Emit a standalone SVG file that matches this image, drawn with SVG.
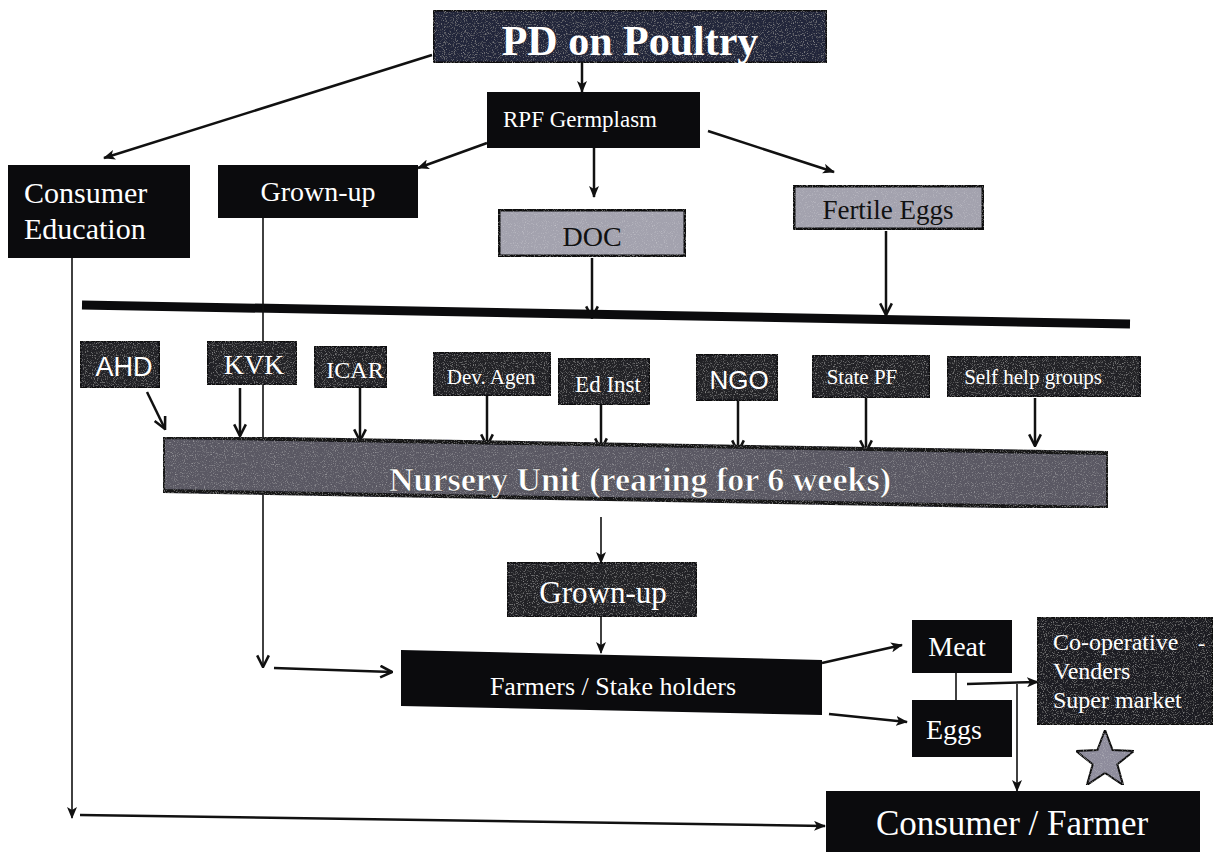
<svg xmlns="http://www.w3.org/2000/svg" width="1215" height="854" viewBox="0 0 1215 854">
<style>
.blk{fill:#0b0b0d;}
.tex{fill:#222228;stroke:#0b0b0d;stroke-width:3;}
.gry{fill:#a3a2ae;stroke:#0b0b0d;stroke-width:5;}
.ln{fill:none;stroke:#111;stroke-width:2.5;}
.lnt{fill:none;stroke:#111;stroke-width:1.6;}
text{font-family:'Liberation Serif','Times New Roman',Times,'Nimbus Roman','DejaVu Serif',serif;}
.tw{fill:#fff;}
.td{fill:#111;}
.ts{fill:#fff;font-family:'Liberation Sans',Arial,Helvetica,sans-serif;}
</style>
<defs>
<marker id="ah" viewBox="0 0 12 10" refX="11" refY="5" markerWidth="12" markerHeight="10" markerUnits="userSpaceOnUse" orient="auto">
<path d="M0,0 L12,5 L0,10 L3,5 Z" fill="#111"/>
</marker>
<marker id="av" viewBox="0 0 12 12" refX="11" refY="6" markerWidth="14" markerHeight="14" markerUnits="userSpaceOnUse" orient="auto">
<path d="M1,1 L11,6 L1,11" fill="none" stroke="#111" stroke-width="2.2"/>
</marker>
<filter id="noise" x="0" y="0" width="1" height="1">
<feTurbulence type="fractalNoise" baseFrequency="0.9" numOctaves="2" seed="3" result="n"/>
<feColorMatrix in="n" type="matrix" values="0 0 0 0 1  0 0 0 0 1  0 0 0 0 1  0 0 0 0.7 -0.38" result="m"/>
<feComposite in="m" in2="SourceGraphic" operator="in" result="c"/>
<feMerge><feMergeNode in="SourceGraphic"/><feMergeNode in="c"/></feMerge>
</filter>
</defs>
<rect width="1215" height="854" fill="#fff"/>

<g id="connectors">
<line class="ln" x1="582" y1="63" x2="582" y2="92" marker-end="url(#ah)"/>
<line class="ln" x1="432" y1="55" x2="104" y2="158" marker-end="url(#ah)"/>
<line class="ln" x1="487" y1="143" x2="418" y2="168" marker-end="url(#ah)"/>
<line class="ln" x1="594" y1="148" x2="594" y2="197" marker-end="url(#ah)"/>
<line class="ln" x1="708" y1="131" x2="834" y2="172" marker-end="url(#ah)"/>
<line class="ln" x1="592" y1="258" x2="592" y2="318" stroke-width="3" marker-end="url(#av)"/>
<line class="ln" x1="886" y1="231" x2="886" y2="315" stroke-width="3" marker-end="url(#av)"/>
<path d="M82,305 L1130,324" stroke="#0b0b0d" stroke-width="9" fill="none"/>
<line class="lnt" x1="72" y1="258" x2="72" y2="818" marker-end="url(#ah)"/>
<path class="ln" d="M80,815 L825,826" marker-end="url(#ah)"/>
<line class="lnt" x1="263" y1="218" x2="263" y2="667" marker-end="url(#av)"/>
<line class="ln" x1="274" y1="668" x2="392" y2="672" marker-end="url(#av)"/>
<line class="ln" x1="147" y1="392" x2="165" y2="429" stroke-width="3" marker-end="url(#av)"/>
<line class="ln" x1="240" y1="388" x2="240" y2="436" stroke-width="3" marker-end="url(#av)"/>
<line class="ln" x1="360" y1="388" x2="360" y2="441" stroke-width="3" marker-end="url(#av)"/>
<line class="ln" x1="487" y1="396" x2="487" y2="446" stroke-width="3" marker-end="url(#av)"/>
<line class="ln" x1="601" y1="405" x2="601" y2="450" stroke-width="3" marker-end="url(#av)"/>
<line class="ln" x1="738" y1="401" x2="738" y2="452" stroke-width="3" marker-end="url(#av)"/>
<line class="ln" x1="866" y1="398" x2="866" y2="452" stroke-width="3" marker-end="url(#av)"/>
<line class="ln" x1="1035" y1="398" x2="1035" y2="446" stroke-width="3" marker-end="url(#av)"/>
<line class="lnt" x1="601" y1="517" x2="601" y2="563" marker-end="url(#ah)"/>
<line class="lnt" x1="601" y1="617" x2="601" y2="653" marker-end="url(#ah)"/>
<line class="ln" x1="822" y1="663" x2="902" y2="645" marker-end="url(#ah)"/>
<line class="ln" x1="829" y1="714" x2="907" y2="722" marker-end="url(#ah)"/>
<line class="lnt" x1="956" y1="673" x2="956" y2="701"/>
<line class="ln" x1="967" y1="684" x2="1038" y2="682" marker-end="url(#ah)"/>
<line class="lnt" x1="1017" y1="684" x2="1017" y2="791" marker-end="url(#ah)"/>
</g>

<g id="title"><rect x="433" y="10" width="394" height="53" class="tex" style="fill:#23273a" filter="url(#noise)"/>
<text x="630" y="55" class="tw" font-size="42" font-weight="bold" text-anchor="middle">PD on Poultry</text></g>

<g id="rpf"><rect x="487" y="92" width="213" height="56" class="blk"/>
<text x="580" y="127" class="tw" font-size="23" text-anchor="middle">RPF Germplasm</text></g>

<g id="consumer-education"><rect x="8" y="165" width="182" height="93" class="blk"/>
<text x="24" y="203" class="tw" font-size="30">Consumer</text>
<text x="24" y="239" class="tw" font-size="30">Education</text></g>

<g id="grownup1"><rect x="218" y="165" width="200" height="53" class="blk"/>
<text x="318" y="201" class="tw" font-size="28" text-anchor="middle">Grown-up</text></g>

<g id="doc"><rect x="498" y="209" width="188" height="48" class="gry" filter="url(#noise)"/>
<text x="592" y="246" class="td" font-size="28" text-anchor="middle">DOC</text></g>

<g id="fertile-eggs"><rect x="793" y="185" width="191" height="45" class="gry" filter="url(#noise)"/>
<text x="888" y="219" class="td" font-size="27" text-anchor="middle">Fertile Eggs</text></g>

<g id="ahd"><rect x="80" y="341" width="80" height="47" class="tex" filter="url(#noise)"/>
<text x="124" y="376" class="ts" font-size="27" text-anchor="middle">AHD</text></g>
<g id="kvk"><rect x="207" y="341" width="90" height="44" class="tex" filter="url(#noise)"/>
<text x="254" y="374" class="tw" font-size="28" text-anchor="middle">KVK</text></g>
<g id="icar"><rect x="314" y="346" width="73" height="42" class="tex" filter="url(#noise)"/>
<text x="355" y="378" class="tw" font-size="24" text-anchor="middle">ICAR</text></g>
<g id="dev-agen"><rect x="433" y="352" width="118" height="44" class="tex" filter="url(#noise)"/>
<text x="491" y="384" class="tw" font-size="21" text-anchor="middle">Dev. Agen</text></g>
<g id="ed-inst"><rect x="558" y="358" width="92" height="47" class="tex" filter="url(#noise)"/>
<text x="608" y="392" class="tw" font-size="23" text-anchor="middle">Ed Inst</text></g>
<g id="ngo"><rect x="696" y="354" width="82" height="47" class="tex" filter="url(#noise)"/>
<text x="739" y="389" class="ts" font-size="26" text-anchor="middle">NGO</text></g>
<g id="state-pf"><rect x="812" y="355" width="118" height="43" class="tex" filter="url(#noise)"/>
<text x="862" y="384" class="tw" font-size="21" text-anchor="middle">State PF</text></g>
<g id="shg"><rect x="947" y="356" width="194" height="41" class="tex" filter="url(#noise)"/>
<text x="1033" y="384" class="tw" font-size="21" text-anchor="middle">Self help groups</text></g>

<g id="nursery"><path d="M163,437 L1108,453 L1108,508 L163,491 Z" fill="#5a5964" stroke="#141418" stroke-width="4" filter="url(#noise)"/>
<text x="640" y="491" class="tw" font-size="34" font-weight="bold" text-anchor="middle" stroke="#333" stroke-width="0.5">Nursery Unit (rearing for 6 weeks)</text></g>

<g id="grownup2"><rect x="507" y="562" width="190" height="55" class="tex" filter="url(#noise)"/>
<text x="603" y="603" class="tw" font-size="31" text-anchor="middle">Grown-up</text></g>

<g id="farmers"><path d="M401,650 L822,660 L822,715 L401,706 Z" class="blk"/>
<text x="613" y="695" class="tw" font-size="26" text-anchor="middle">Farmers / Stake holders</text></g>

<g id="meat"><rect x="912" y="620" width="100" height="53" class="blk"/>
<text x="957" y="656" class="tw" font-size="28" text-anchor="middle">Meat</text></g>
<g id="eggs"><rect x="912" y="700" width="100" height="57" class="blk"/>
<text x="954" y="739" class="tw" font-size="28" text-anchor="middle">Eggs</text></g>

<g id="coop"><rect x="1037" y="617" width="176" height="108" class="tex" style="fill:#1c1c22" filter="url(#noise)"/>
<text x="1053" y="650" class="tw" font-size="24">Co-operative</text>
<text x="1198" y="650" class="tw" font-size="22">-</text>
<text x="1053" y="679" class="tw" font-size="24">Venders</text>
<text x="1053" y="708" class="tw" font-size="24">Super market</text></g>

<g id="star"><path d="M1105,730 L1112.6,750 L1134,751 L1117.3,764.3 L1123.1,785 L1105,773 L1086.9,785 L1092.7,764.3 L1076,751 L1097.4,750 Z" fill="#8e8c9c" stroke="#111" stroke-width="2" filter="url(#noise)"/></g>

<g id="consumer-farmer"><rect x="826" y="791" width="374" height="61" class="blk"/>
<text x="1012" y="835" class="tw" font-size="35" text-anchor="middle">Consumer / Farmer</text></g>
</svg>
